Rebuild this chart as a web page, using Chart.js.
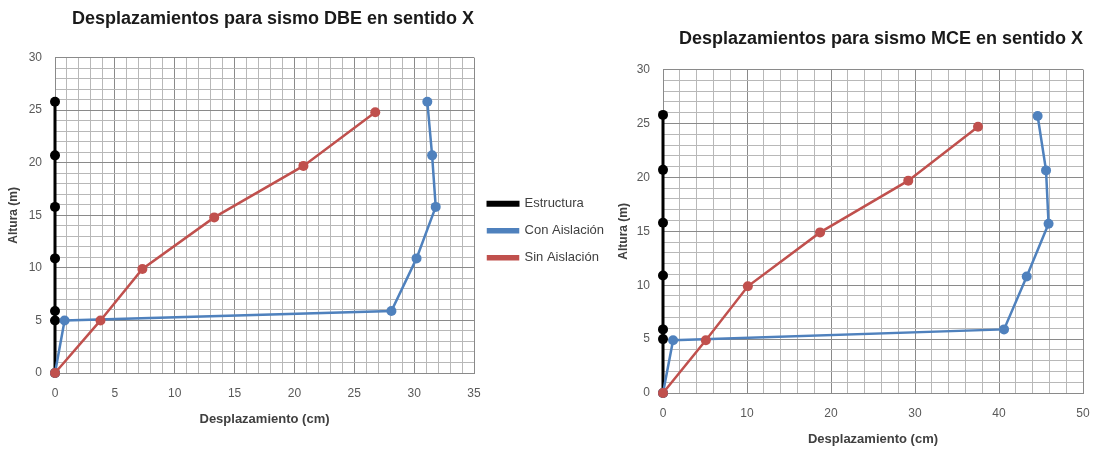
<!DOCTYPE html>
<html>
<head>
<meta charset="utf-8">
<script src="https://cdn.jsdelivr.net/npm/chart.js@4"></script>
<style>
	body { margin: 0; background: #fff; width: 1099px; height: 449px; overflow: hidden; position: relative; }
	.box { position: absolute; top: 0; height: 449px; }
	#dbeBox { left: 0; width: 620px; }
	#mceBox { left: 614px; width: 485px; }
</style>
</head>
<body>
<div class="box" id="dbeBox"><canvas id="dbeChart"></canvas></div>
<div class="box" id="mceBox"><canvas id="mceChart"></canvas></div>
<script>
const seriesNames = ["Estructura", "Con Aislación", "Sin Aislación"];

// alturas de los niveles (m)
const estructuraY = [0, 5.0, 5.9, 10.9, 15.8, 20.7, 25.8];
const estructuraX = [0, 0, 0, 0, 0, 0, 0];

// sismo DBE
const dbeConX = [0, 0.8, 28.1, 30.2, 31.8, 31.5, 31.1];
const dbeConY = [0, 5.0, 5.9, 10.9, 15.8, 20.7, 25.8];
const dbeSinX = [0, 3.8, 7.3, 13.3, 20.75, 26.75];
const dbeSinY = [0, 5.0, 9.9, 14.8, 19.7, 24.8];

// sismo MCE
const mceConX = [0, 1.2, 40.6, 43.3, 45.9, 45.6, 44.6];
const mceConY = [0, 4.9, 5.9, 10.8, 15.7, 20.65, 25.7];
const mceSinX = [0, 5.1, 10.1, 18.7, 29.2, 37.5];
const mceSinY = [0, 4.9, 9.9, 14.9, 19.7, 24.7];

const colors = ["#000000", "#4f81bd", "#c0504d"];
const fontFamily = "'Liberation Sans', Arial, sans-serif";

function toPoints(xs, ys) {
	return xs.map((x, i) => ({ x: x, y: ys[i] }));
}

function makeDataset(i, xs, ys) {
	return {
		label: seriesNames[i],
		data: toPoints(xs, ys),
		borderColor: colors[i],
		backgroundColor: colors[i],
		borderWidth: i === 0 ? 3 : 2.5,
		pointRadius: 5,
		pointHoverRadius: 5,
		pointBorderWidth: 0,
		showLine: true,
		tension: 0,
		clip: false,
		order: 3 - i,
	};
}

function gridColor(major) {
	return (ctx) => (ctx.tick && ctx.tick.value % major === 0 ? "#8a8a8a" : "#b8b8b8");
}

function initChart(id, title, xsCon, ysCon, xsSin, ysSin, xMax, xMinor, xMajor, showLegend, pad) {
	const ctx = document.getElementById(id).getContext("2d");
	new Chart(ctx, {
		type: "scatter",
		data: {
			datasets: [
				makeDataset(0, estructuraX, estructuraY),
				makeDataset(1, xsCon, ysCon),
				makeDataset(2, xsSin, ysSin),
			],
		},
		options: {
			responsive: true,
			maintainAspectRatio: false,
			animation: false,
			layout: { padding: { top: pad.top, left: 0, right: pad.right, bottom: pad.bottom } },
			plugins: {
				title: {
					display: true,
					text: title,
					fullSize: false,
					align: "end",
					color: "#1a1a1a",
					font: { family: fontFamily, size: 18, weight: "bold" },
					padding: { top: 0, bottom: pad.titleGap },
				},
				legend: {
					display: showLegend,
					position: "right",
					title: { display: true, text: "", font: { size: 12 }, padding: 6 },
					labels: {
						color: "#404040",
						font: { family: fontFamily, size: 13 },
						boxWidth: 30,
						boxHeight: 3,
						padding: 14,
						sort: (a, b) => a.datasetIndex - b.datasetIndex,
					},
				},
				tooltip: { enabled: false },
			},
			scales: {
				x: {
					type: "linear",
					min: 0,
					max: xMax,
					afterFit: (scale) => {
						// the tick padding would otherwise widen the right margin
						scale.paddingRight = pad.xEnd;
					},
					ticks: {
						stepSize: xMinor,
						autoSkip: false,
						maxRotation: 0,
						color: "#595959",
						padding: 13,
						font: { family: fontFamily, size: 12 },
						callback: (v) => (v % xMajor === 0 ? v : ""),
					},
					grid: { color: gridColor(xMajor), drawTicks: false },
					border: { color: "#8a8a8a" },
					title: {
						display: true,
						text: "Desplazamiento (cm)",
						color: "#404040",
						font: { family: fontFamily, size: 13, weight: "bold" },
						padding: { top: -2, bottom: 0 },
					},
				},
				y: {
					type: "linear",
					min: 0,
					max: 30,
					afterFit: (scale) => {
						scale.width = pad.yWidth;
					},
					ticks: {
						stepSize: 1,
						autoSkip: false,
						color: "#595959",
						padding: 13,
						font: { family: fontFamily, size: 12 },
						callback: (v) => (v % 5 === 0 ? v : ""),
					},
					grid: { color: gridColor(5), drawTicks: false },
					border: { color: "#8a8a8a" },
					title: {
						display: true,
						text: "Altura (m)",
						color: "#404040",
						font: { family: fontFamily, size: 12, weight: "bold" },
						padding: { top: pad.yTitle, bottom: 0 },
					},
				},
			},
		},
	});
}

initChart("dbeChart", "Desplazamientos para sismo DBE en sentido X",
	dbeConX, dbeConY, dbeSinX, dbeSinY, 35, 1, 5, true,
	{ top: 8, right: 6, bottom: 22, titleGap: 28, yWidth: 55, yTitle: 6, xEnd: 20 });

initChart("mceChart", "Desplazamientos para sismo MCE en sentido X",
	mceConX, mceConY, mceSinX, mceSinY, 50, 2, 10, false,
	{ top: 28, right: 0, bottom: 2, titleGap: 20, yWidth: 49, yTitle: 2, xEnd: 16 });
</script>
</body>
</html>
